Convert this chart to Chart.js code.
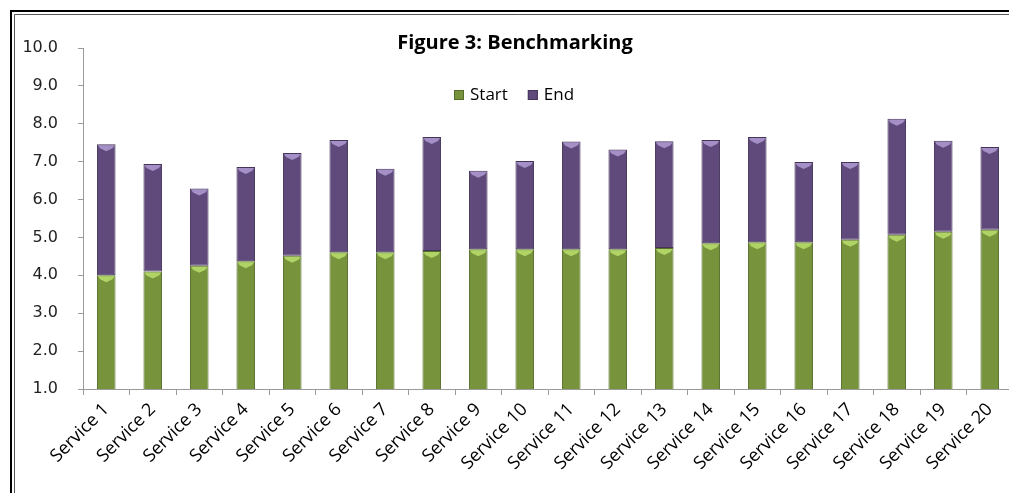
<!DOCTYPE html>
<html>
<head>
<meta charset="utf-8">
<script src="https://cdn.jsdelivr.net/npm/chart.js@4"></script>
<style>
  html, body { margin: 0; padding: 0; background: #fff; overflow: hidden; width: 1009px; height: 493px; }
  #wrap { position: relative; width: 1009px; height: 493px; overflow: hidden; }
  #chart { position: absolute; left: 0; top: 0; }
</style>
</head>
<body>
<div id="wrap">
  <canvas id="chart" width="1022" height="493"></canvas>
</div>
<script>
/* ── Data ─────────────────────────────────────────────────────────── */
const titleText = "Figure 3: Benchmarking";

const services = [
  "Service 1", "Service 2", "Service 3", "Service 4", "Service 5",
  "Service 6", "Service 7", "Service 8", "Service 9", "Service 10",
  "Service 11", "Service 12", "Service 13", "Service 14", "Service 15",
  "Service 16", "Service 17", "Service 18", "Service 19", "Service 20"
];

// lower (green) segment
const startScores = [
  4.00, 4.10, 4.25, 4.37, 4.52, 4.61, 4.61, 4.64, 4.69, 4.69,
  4.69, 4.69, 4.72, 4.85, 4.87, 4.87, 4.94, 5.07, 5.15, 5.20
];

// upper (purple) segment, stacked on top of start
const endScores = [
  3.46, 2.84, 2.04, 2.49, 2.71, 2.96, 2.20, 3.01, 2.07, 2.33,
  2.84, 2.63, 2.82, 2.72, 2.78, 2.12, 2.05, 3.06, 2.40, 2.19
];

const yTicks = [1, 2, 3, 4, 5, 6, 7, 8, 9, 10];

/* ── Colours ──────────────────────────────────────────────────────── */
const green  = "#77933C";
const purple = "#604A7B";
const hiLite = { Start: "#afd465", End: "#a48fc6" };

/* ── Frame, bevels, title + legend drawn over the plot (Excel look) ─ */
const overlay = {
  id: "overlay",
  beforeDraw(chart) {
    const ctx = chart.ctx;
    ctx.save();
    ctx.strokeStyle = "#000";
    ctx.lineWidth = 2;
    ctx.beginPath();
    ctx.moveTo(11, 493); ctx.lineTo(11, 11); ctx.lineTo(chart.width, 11);
    ctx.stroke();
    ctx.lineWidth = 1;
    ctx.strokeStyle = "#555";
    ctx.beginPath();
    ctx.moveTo(14.5, 493); ctx.lineTo(14.5, 14.5); ctx.lineTo(chart.width, 14.5);
    ctx.stroke();
    ctx.restore();
  },
  afterDatasetsDraw(chart) {
    const ctx = chart.ctx;
    chart.data.datasets.forEach((ds, i) => {
      chart.getDatasetMeta(i).data.forEach((bar) => {
        const w = bar.width;
        const top = Math.min(bar.y, bar.base);
        ctx.save();
        ctx.fillStyle = hiLite[ds.label];
        ctx.beginPath();
        ctx.moveTo(bar.x - w / 2 + 1, top + 1);
        ctx.lineTo(bar.x + w / 2 - 1, top + 1);
        ctx.lineTo(bar.x + w / 2 - 3, top + 4);
        ctx.lineTo(bar.x, top + 7);
        ctx.lineTo(bar.x - w / 2 + 3, top + 4);
        ctx.closePath();
        ctx.fill();
        ctx.restore();
      });
    });
  },
  afterDraw(chart) {
    const ctx = chart.ctx;
    ctx.save();
    ctx.fillStyle = "#000";
    ctx.textBaseline = "middle";

    ctx.font = "bold 20px 'Open Sans'";
    ctx.textAlign = "center";
    ctx.fillText(titleText, 515, 43);

    // legend
    ctx.font = "17px 'Open Sans'";
    ctx.textAlign = "left";
    let x = 454;
    const y = 95;
    chart.data.datasets.forEach((ds) => {
      ctx.fillStyle = ds.backgroundColor;
      ctx.fillRect(x, y - 5, 10, 10);
      ctx.strokeStyle = ds.borderColor;
      ctx.lineWidth = 1;
      ctx.strokeRect(x + 0.5, y - 4.5, 9, 9);
      ctx.fillStyle = "#000";
      ctx.fillText(ds.label, x + 16, y);
      x += 16 + ctx.measureText(ds.label).width + 20;
    });
    ctx.restore();
  }
};

/* ── Chart ────────────────────────────────────────────────────────── */
new Chart(document.getElementById("chart"), {
  type: "bar",
  data: {
    labels: services,
    datasets: [
      {
        label: "Start",
        data: startScores,
        backgroundColor: green,
        borderColor: "#566d2b",
        borderWidth: 1,
        borderSkipped: false,
      },
      {
        label: "End",
        data: endScores,
        backgroundColor: purple,
        borderColor: "#45355a",
        borderWidth: 1,
        borderSkipped: false,
      },
    ],
  },
  options: {
    responsive: false,
    animation: false,
    layout: { padding: { top: 48, right: 9, left: 0, bottom: 0 } },
    datasets: { bar: { categoryPercentage: 1, barPercentage: 0.4 } },
    plugins: {
      legend: { display: false },
      title: { display: false },
      tooltip: { enabled: false },
    },
    scales: {
      x: {
        stacked: true,
        grid: { drawOnChartArea: false, color: "#9a9a9a", tickLength: 6 },
        border: { color: "#9a9a9a" },
        ticks: {
          color: "#000",
          font: { family: "'Open Sans'", size: 18 },
          maxRotation: 45,
          minRotation: 45,
          autoSkip: false,
          padding: 4,
        },
        afterFit: (s) => { s.height = 104; },
      },
      y: {
        stacked: true,
        min: 1,
        max: 10,
        afterBuildTicks: (s) => { s.ticks = yTicks.map((v) => ({ value: v })); },
        grid: { drawOnChartArea: false, color: "#9a9a9a", tickLength: 5 },
        border: { color: "#9a9a9a" },
        ticks: {
          color: "#222",
          font: { family: "DejaVu Sans", size: 16 },
          padding: 20,
          callback: (v) => Number(v).toFixed(1),
        },
        afterFit: (s) => { s.width = 83; },
      },
    },
  },
  plugins: [overlay],
});
</script>
</body>
</html>
